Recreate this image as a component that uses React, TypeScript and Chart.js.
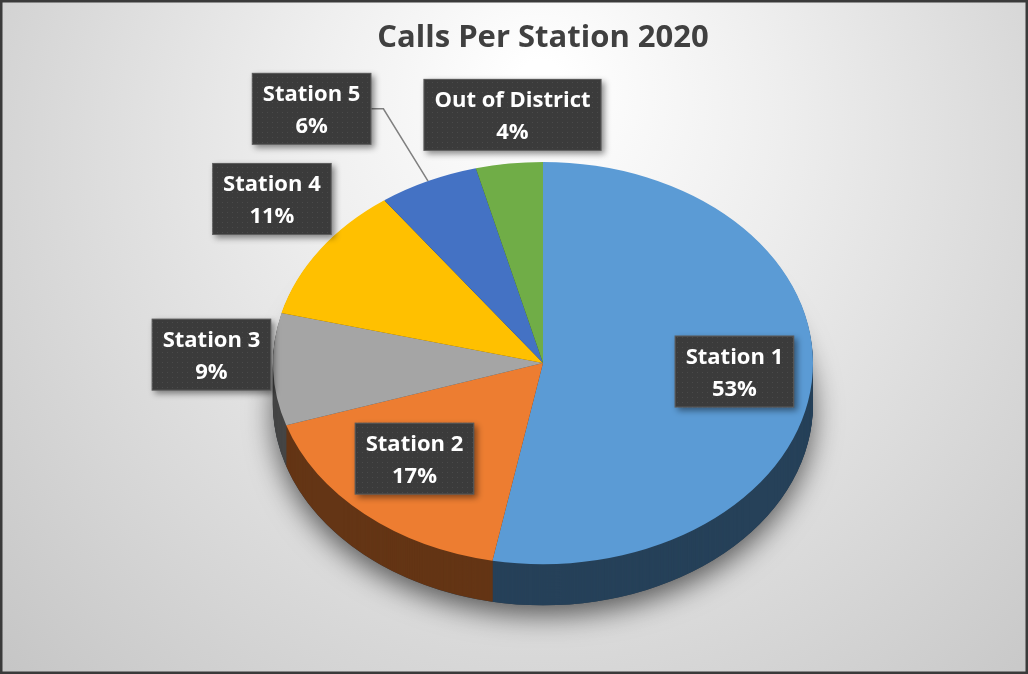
import React, { useEffect, useRef } from "react";
import { Chart, registerables } from "chart.js";

Chart.register(...registerables);

// ---- data ----
const categories = ["Station 1", "Station 2", "Station 3", "Station 4", "Station 5", "Out of District"];
const callShares = [53, 17, 9, 11, 6, 4];
const sliceColors = ["#5B9BD5", "#ED7D31", "#A5A5A5", "#FFC000", "#4472C4", "#70AD47"];
const titleText = "Calls Per Station 2020";
// label box centres relative to the pie centre, in units of the (tilted) radii
const labelOffsetX = [0.709, -0.476, -1.228, -1.004, -0.857, -0.113];
const labelOffsetY = [0.042, 0.475, -0.042, -0.816, -1.264, -1.234];
const hasLeader = [false, false, false, false, true, false];

// ---- style ----
const W = 1028;
const H = 674;
const DEPTH = 41;
const TILT = 0.745;
const LABEL_FONT = 'bold 22px "Open Sans"';

function shade(hex: string, f: number): string {
  const n = parseInt(hex.slice(1), 16);
  const r = Math.round(((n >> 16) & 255) * f);
  const g = Math.round(((n >> 8) & 255) * f);
  const b = Math.round((n & 255) * f);
  return `rgb(${r},${g},${b})`;
}
const sideColors = sliceColors.map((c) => shade(c, 0.42));

let boxPattern: CanvasPattern | null = null;
function getPattern(ctx: CanvasRenderingContext2D) {
  if (boxPattern) return boxPattern;
  const c = document.createElement("canvas");
  c.width = 5;
  c.height = 5;
  const p = c.getContext("2d")!;
  p.fillStyle = "#3b3b3b";
  p.fillRect(0, 0, 5, 5);
  p.fillStyle = "#4a4a4a";
  p.fillRect(2, 2, 1, 1);
  boxPattern = ctx.createPattern(c, "repeat");
  return boxPattern;
}

const pie3dPlugin = {
  id: "pie3d",
  beforeDraw(chart: any) {
    const ctx = chart.ctx as CanvasRenderingContext2D;
    ctx.save();
    const g = ctx.createRadialGradient(540, 80, 20, 540, 200, 760);
    g.addColorStop(0, "#ffffff");
    g.addColorStop(0.3, "#eeeeee");
    g.addColorStop(1, "#c2c2c2");
    ctx.fillStyle = g;
    ctx.fillRect(0, 0, W, H);
    ctx.restore();
  },
  beforeDatasetsDraw(chart: any) {
    const ctx = chart.ctx as CanvasRenderingContext2D;
    const arcs = chart.getDatasetMeta(0).data;
    ctx.save();
    if (!arcs.length) return;
    const { x, y, outerRadius } = arcs[0].getProps(["x", "y", "outerRadius"], true);
    // drop shadow under the pie
    ctx.save();
    ctx.shadowColor = "rgba(0,0,0,0.6)";
    ctx.shadowBlur = 28;
    ctx.shadowOffsetY = 10;
    ctx.fillStyle = "#2a3a4a";
    ctx.beginPath();
    ctx.ellipse(x, y + DEPTH, outerRadius, outerRadius * TILT, 0, 0, Math.PI * 2);
    ctx.fill();
    ctx.restore();
    // extruded side
    for (let d = DEPTH; d >= 1; d--) {
      arcs.forEach((arc: any, i: number) => {
        const p = arc.getProps(["x", "y", "startAngle", "endAngle", "outerRadius"], true);
        ctx.save();
        ctx.translate(p.x, p.y + d);
        ctx.scale(1, TILT);
        ctx.beginPath();
        ctx.moveTo(0, 0);
        ctx.arc(0, 0, p.outerRadius, p.startAngle, p.endAngle);
        ctx.closePath();
        ctx.fillStyle = sideColors[i];
        ctx.fill();
        ctx.restore();
      });
    }
    // tilt the top face
    ctx.translate(x, y);
    ctx.scale(1, TILT);
    ctx.translate(-x, -y);
  },
  afterDatasetsDraw(chart: any) {
    chart.ctx.restore();
  },
  afterDraw(chart: any) {
    const ctx = chart.ctx as CanvasRenderingContext2D;
    const arcs = chart.getDatasetMeta(0).data;
    const total = callShares.reduce((a, b) => a + b, 0);
    ctx.save();
    ctx.font = LABEL_FONT;
    arcs.forEach((arc: any, i: number) => {
      const p = arc.getProps(["x", "y", "startAngle", "endAngle", "outerRadius"], true);
      const rx = p.outerRadius;
      const ry = p.outerRadius * TILT;
      const bx = p.x + labelOffsetX[i] * rx;
      const by = p.y + labelOffsetY[i] * ry;
      const lines = [categories[i], `${Math.round((callShares[i] / total) * 100)}%`];
      const tw = Math.max(...lines.map((l) => ctx.measureText(l).width));
      const bw = tw + 22;
      const bh = 72;
      const left = bx - bw / 2;
      const top = by - bh / 2;
      if (hasLeader[i]) {
        const mid = (p.startAngle + p.endAngle) / 2;
        const ex = p.x + rx * Math.cos(mid);
        const ey = p.y + ry * Math.sin(mid);
        ctx.save();
        ctx.strokeStyle = "#808080";
        ctx.lineWidth = 1.5;
        ctx.beginPath();
        ctx.moveTo(left + bw, by);
        ctx.lineTo(left + bw + 12, by);
        ctx.lineTo(ex, ey);
        ctx.stroke();
        ctx.restore();
      }
      ctx.save();
      ctx.shadowColor = "rgba(0,0,0,0.45)";
      ctx.shadowBlur = 6;
      ctx.shadowOffsetX = 3;
      ctx.shadowOffsetY = 3;
      ctx.fillStyle = getPattern(ctx) || "#3b3b3b";
      ctx.fillRect(left, top, bw, bh);
      ctx.restore();
      ctx.save();
      ctx.strokeStyle = "rgba(255,255,255,0.18)";
      ctx.lineWidth = 1;
      ctx.strokeRect(left + 0.5, top + 0.5, bw - 1, bh - 1);
      ctx.fillStyle = "#ffffff";
      ctx.textAlign = "center";
      ctx.textBaseline = "alphabetic";
      ctx.fillText(lines[0], bx, by - 7.5);
      ctx.fillText(lines[1], bx, by + 24);
      ctx.restore();
    });
    // outer frame
    ctx.strokeStyle = "#3a3a3a";
    ctx.lineWidth = 2.5;
    ctx.strokeRect(1.25, 1.25, W - 2.5, H - 2.5);
    ctx.restore();
  },
};

export default function App() {
  const ref = useRef<HTMLCanvasElement | null>(null);
  useEffect(() => {
    document.body.style.margin = "0";
    const canvas = ref.current!;
    const chart = new Chart(canvas, {
      type: "pie",
      data: {
        labels: categories,
        datasets: [
          {
            data: callShares,
            backgroundColor: sliceColors,
            borderWidth: 0,
            radius: 270,
            clip: false,
          } as any,
        ],
      },
      options: {
        animation: false,
        responsive: false,
        events: [],
        layout: { padding: { left: 273, right: 215, top: 0, bottom: 14 } },
        plugins: {
          legend: { display: false },
          tooltip: { enabled: false },
          title: {
            display: true,
            text: titleText,
            color: "#404040",
            font: { family: '"Open Sans"', size: 31, weight: "bold" },
            padding: { top: 20, bottom: 9 },
          },
        },
      },
      plugins: [pie3dPlugin],
    });
    return () => chart.destroy();
  }, []);
  return (
    <div style={{ width: W, height: H }}>
      <canvas ref={ref} width={W} height={H} style={{ display: "block", width: W, height: H }} />
    </div>
  );
}
